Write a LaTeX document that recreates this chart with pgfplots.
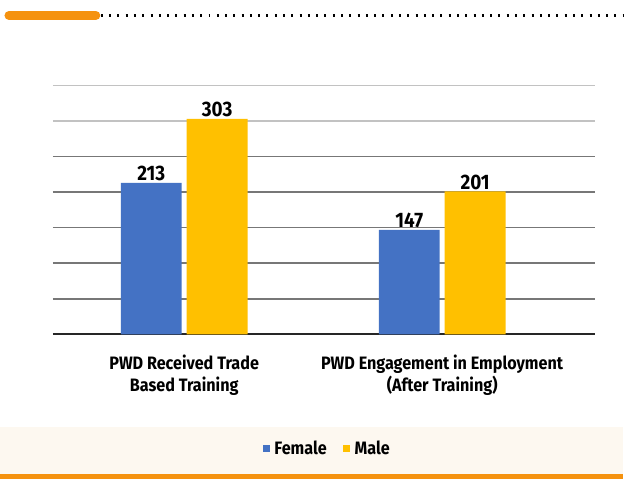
\documentclass[border=0pt]{standalone}
\usepackage{pgfplots}
\pgfplotsset{compat=1.18}
\usepackage{fontspec}
\setmainfont{Fira Sans}[FakeStretch=0.9]
\definecolor{fem}{HTML}{4472C4}
\definecolor{mal}{HTML}{FFC000}
\definecolor{org}{HTML}{F5920F}
\definecolor{band}{HTML}{FDF8F0}
\definecolor{grd}{HTML}{777777}
\begin{document}
\begin{tikzpicture}[x=1pt,y=1pt]
\path[fill=white] (0,0) rectangle (624,480);
\fill[band] (0,5) rectangle (624,52);
\fill[org] (0,0) rectangle (624,5);
\draw[org, line width=9pt, line cap=round] (9,464.5) -- (96,464.5);
\draw[black, line width=2.4pt, dash pattern=on 2pt off 6.3pt] (101,464.5) -- (624,464.5);
\begin{axis}[
  at={(53pt,145pt)}, anchor=south west,
  scale only axis, width=543pt, height=249.5pt,
  xmin=-0.509, xmax=1.592, ymin=0, ymax=350, enlargelimits=false,
  axis x line*=bottom, axis y line*=left,
  y axis line style={draw=none},
  x axis line style={black!85, line width=1.8pt, -},
  ytick={50,100,150,200,250}, yticklabels={},
  extra y ticks={300,350}, extra y tick labels={},
  extra y tick style={grid style={grd!45, line width=1.2pt}},
  ymajorgrids, grid style={grd, line width=1.5pt},
  xtick={0,1}, major tick length=0pt,
  xticklabels={PWD Received Trade\\Based Training, PWD Engagement in Employment\\(After Training)},
  xticklabel style={align=center, font=\bfseries\fontsize{18}{22.5}\selectfont, yshift=-17pt},
  ybar=5pt, bar width=61pt,
  /pgf/number format/assume math mode=true,
  nodes near coords, every node near coord/.append style={font=\bfseries\fontsize{21}{21}\selectfont, black, yshift=-2pt},
  legend style={at={(0.506,-0.457)}, anchor=center, draw=none, fill=none, legend columns=2,
    font=\bfseries\fontsize{18}{18}\selectfont,
    /tikz/every odd column/.append style={column sep=3pt},
    /tikz/every even column/.append style={column sep=14pt}},
  legend image code/.code={\fill[#1] (0pt,-3.5pt) rectangle (7pt,3.5pt);},
]
\addplot[fill=fem, draw=none] coordinates {(0,213) (1,147)};
\addplot[fill=mal, draw=none] coordinates {(0,303) (1,201)};
\legend{Female, Male}
\end{axis}
\end{tikzpicture}
\end{document}
